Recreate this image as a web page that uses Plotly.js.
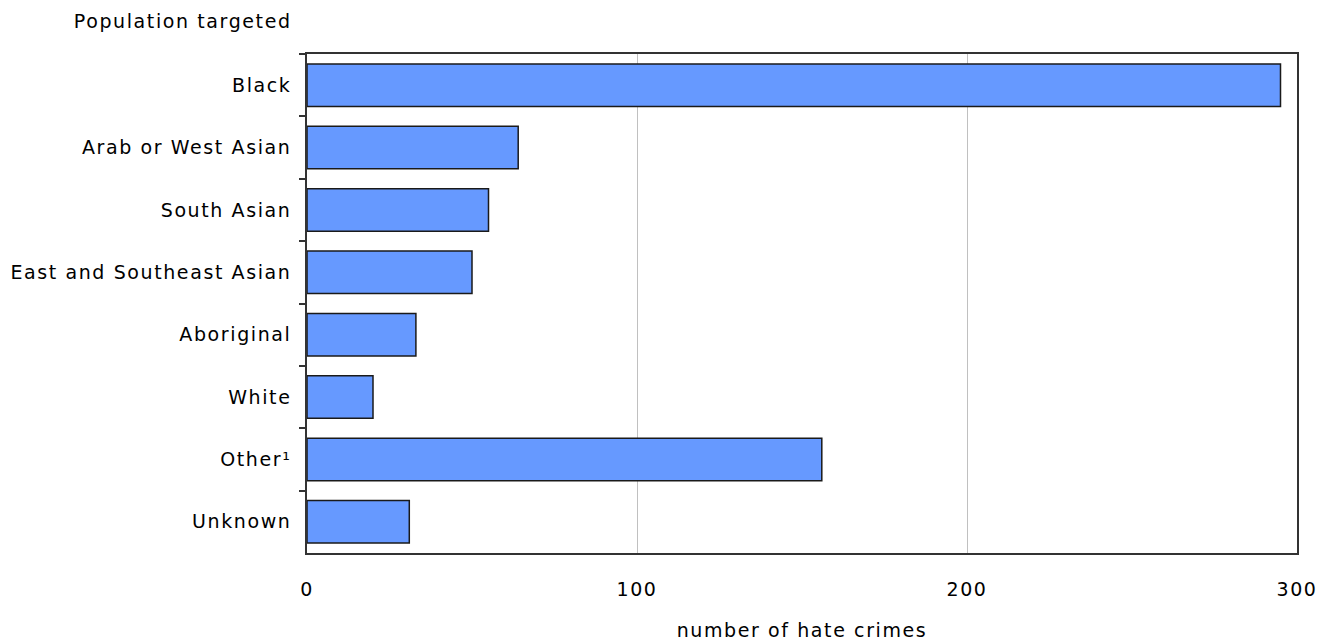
<!DOCTYPE html>
<html>
<head>
<meta charset="utf-8">
<script src="https://cdn.plot.ly/plotly-3.0.1.min.js"></script>
<style>
html,body{margin:0;padding:0;background:#fff;}
#chart text{letter-spacing:1.6px;}
</style>
</head>
<body>
<div id="chart" style="width:1326px;height:642px;"></div>
<script>
const categories = ["Black", "Arab or West Asian", "South Asian", "East and Southeast Asian", "Aboriginal", "White", "Other¹", "Unknown"];
const hateCrimes = [295, 64, 55, 50, 33, 20, 156, 31];
const xTickValues = [0, 100, 200, 300];

const font = {family: "DejaVu Sans, Verdana, sans-serif", size: 19, color: "#000"};

Plotly.newPlot("chart", [{
  type: "bar",
  orientation: "h",
  y: categories,
  x: hateCrimes,
  width: 0.68,
  marker: {color: "#6699FF", line: {color: "#1a1a1a", width: 1.5}},
  hoverinfo: "x+y"
}], {
  width: 1326, height: 642,
  margin: {l: 307, r: 29, t: 54, b: 89},
  paper_bgcolor: "#fff", plot_bgcolor: "#fff",
  font: font,
  showlegend: false,
  bargap: 0.32,
  xaxis: {
    range: [0, 300],
    tickvals: xTickValues,
    ticktext: xTickValues.map(String),
    showgrid: true, gridcolor: "#c0c0c0", gridwidth: 1,
    zeroline: false,
    showline: true, linecolor: "#333", linewidth: 1.5, mirror: true,
    ticks: "", ticklabelstandoff: 18,
    title: {text: "number of hate crimes", font: font, standoff: 25},
    fixedrange: true
  },
  yaxis: {
    type: "category",
    autorange: "reversed",
    tickson: "boundaries",
    ticks: "outside", ticklen: 6, tickcolor: "#333", tickwidth: 1.5,
    showgrid: false, zeroline: false,
    showline: true, linecolor: "#333", linewidth: 1.5, mirror: true,
    ticklabelstandoff: 10,
    fixedrange: true
  },
  annotations: [{
    text: "Population targeted",
    xref: "paper", yref: "paper",
    x: -0.029, y: 1, yshift: 33,
    xanchor: "right", yanchor: "middle",
    showarrow: false, font: font
  }]
}, {displayModeBar: false});
</script>
</body>
</html>
